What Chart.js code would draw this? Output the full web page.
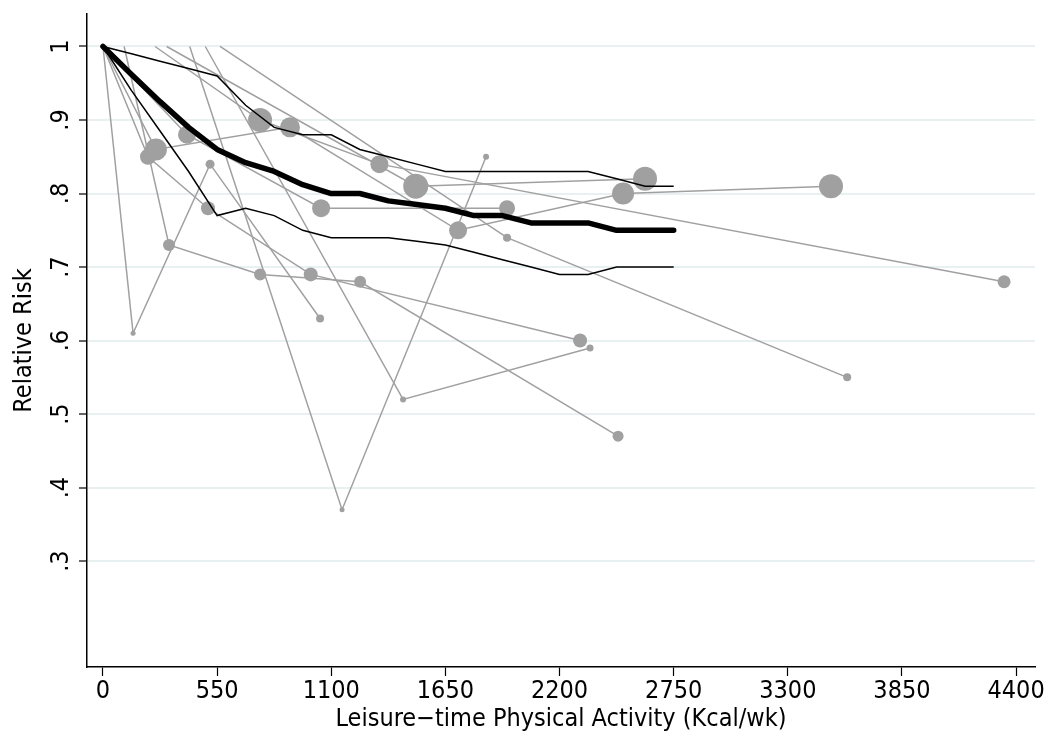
<!DOCTYPE html>
<html>
<head>
<meta charset="utf-8">
<script src="https://cdn.jsdelivr.net/npm/chart.js@4.4.1/dist/chart.umd.min.js"></script>
<style>
  html, body { margin: 0; padding: 0; background: #fff; }
  #wrap { width: 1050px; height: 744px; position: relative; }
</style>
</head>
<body>
<div id="wrap"><canvas id="doseChart"></canvas></div>
<script>
// axis ticks
const xTickValues = [0, 550, 1100, 1650, 2200, 2750, 3300, 3850, 4400];
const yTickValues = [0.3, 0.4, 0.5, 0.6, 0.7, 0.8, 0.9, 1];
const yTickLabels = ['.3', '.4', '.5', '.6', '.7', '.8', '.9', '1'];

// pooled dose-response curve and its confidence band
const pooledDose = [0, 137.5, 275, 412.5, 550, 687.5, 825, 962.5, 1100, 1237.5, 1375,
    1512.5, 1650, 1787.5, 1925, 2062.5, 2200, 2337.5, 2475, 2612.5, 2750];
const pooledRR = [1, 0.962, 0.925, 0.89, 0.86, 0.842, 0.83, 0.812, 0.80, 0.80, 0.79,
    0.785, 0.78, 0.77, 0.77, 0.76, 0.76, 0.76, 0.75, 0.75, 0.75];
const upperRR = [1, 0.99, 0.98, 0.97, 0.96, 0.92, 0.89, 0.88, 0.88, 0.86, 0.85,
    0.84, 0.83, 0.83, 0.83, 0.83, 0.83, 0.83, 0.82, 0.81, 0.81];
const lowerRR = [1, 0.94, 0.885, 0.83, 0.77, 0.78, 0.77, 0.75, 0.74, 0.74, 0.74,
    0.735, 0.73, 0.72, 0.71, 0.70, 0.69, 0.69, 0.70, 0.70, 0.70];

// individual studies: dose, relative risk, marker size (study weight)
const studyDose = [
    [0, 145, 516, 1046],
    [102, 318, 757, 1239, 2482],
    [418, 1152, 1846],
    [0, 217, 506, 1001, 2299],
    [0, 255, 901, 1711, 2506, 3508],
    [493, 1446, 2347],
    [0, 405, 1051, 1947],
    [251, 757, 1332, 4342],
    [307, 1507, 2612],
    [564, 1947, 3586]
];
const studyRR = [
    [1, 0.61, 0.84, 0.63],
    [1, 0.73, 0.69, 0.68, 0.47],
    [1, 0.37, 0.85],
    [1, 0.85, 0.78, 0.69, 0.60],
    [1, 0.86, 0.89, 0.75, 0.80, 0.81],
    [1, 0.52, 0.59],
    [1, 0.88, 0.78, 0.78],
    [1, 0.90, 0.84, 0.68],
    [1, 0.81, 0.82],
    [1, 0.74, 0.55]
];
const studySize = [
    [0, 2.5, 4.5, 4],
    [0, 6, 6, 6, 5.5],
    [0, 2.5, 3],
    [0, 8, 7, 7, 7],
    [0, 11, 10, 9, 11, 12],
    [0, 3, 3.5],
    [0, 9, 9, 8],
    [0, 12, 9, 6.5],
    [0, 12.5, 12],
    [0, 4, 4]
];

const gray = '#a0a0a0';
const font = "'Liberation Sans Narrow', 'DejaVu Sans Condensed', sans-serif";

function toPoints(xs, ys) {
    return xs.map((x, i) => ({ x: x, y: ys[i] }));
}

const datasets = [
    { data: toPoints(pooledDose, pooledRR), borderColor: '#000', borderWidth: 5.5, pointRadius: 0, borderCapStyle: 'round', borderJoinStyle: 'round' },
    { data: toPoints(pooledDose, upperRR), borderColor: '#000', borderWidth: 1.5, pointRadius: 0 },
    { data: toPoints(pooledDose, lowerRR), borderColor: '#000', borderWidth: 1.5, pointRadius: 0 }
];

studyDose.forEach((doses, i) => {
    datasets.push({
        data: toPoints(doses, studyRR[i]),
        borderColor: gray,
        borderWidth: 1.5,
        pointRadius: studySize[i],
        pointBackgroundColor: gray,
        pointBorderWidth: 0,
        pointHoverRadius: studySize[i]
    });
});

// y tick labels are rotated like the original (reading upward)
const yLabelPlugin = {
    id: 'yLabels',
    afterDraw(chart) {
        const ctx = chart.ctx;
        const yScale = chart.scales.y;
        ctx.save();
        ctx.fillStyle = '#000';
        ctx.font = '25px ' + font;
        ctx.textAlign = 'center';
        ctx.textBaseline = 'middle';
        yTickValues.forEach((v, i) => {
            ctx.save();
            ctx.translate(61, yScale.getPixelForValue(v));
            ctx.rotate(-Math.PI / 2);
            ctx.fillText(yTickLabels[i], 0, 0);
            ctx.restore();
        });
        ctx.restore();
    }
};

new Chart(document.getElementById('doseChart'), {
    type: 'line',
    data: { datasets: datasets },
    options: {
        responsive: true,
        maintainAspectRatio: false,
        animation: false,
        layout: { padding: { top: 14, right: 15, bottom: 0, left: 0 } },
        plugins: {
            legend: { display: false },
            tooltip: { enabled: false }
        },
        elements: { line: { tension: 0 } },
        scales: {
            x: {
                type: 'linear',
                min: -77,
                max: 4491,
                afterBuildTicks: (scale) => { scale.ticks = xTickValues.map(v => ({ value: v })); },
                afterFit: (scale) => { scale.height = 77; },
                border: { display: true, color: '#000', width: 1.5 },
                grid: { drawOnChartArea: false, drawTicks: true, tickLength: 9, tickColor: '#000', tickWidth: 1.2 },
                ticks: {
                    color: '#000',
                    font: { family: font, size: 25 },
                    padding: 0,
                    maxRotation: 0,
                    autoSkip: false,
                    callback: (value) => String(value)
                },
                title: {
                    display: true,
                    text: 'Leisure\u2212time Physical Activity (Kcal/wk)',
                    color: '#000',
                    font: { family: font, size: 25 },
                    padding: { top: 0, bottom: 10 }
                }
            },
            y: {
                type: 'linear',
                min: 0.156,
                max: 1.0442,
                afterBuildTicks: (scale) => { scale.ticks = yTickValues.map(v => ({ value: v })); },
                afterFit: (scale) => { scale.width = 87; },
                border: { display: true, color: '#000', width: 1.5 },
                grid: { color: '#e8f0f1', lineWidth: 2, drawTicks: true, tickLength: 8, tickColor: '#000', tickWidth: 1.2 },
                ticks: { display: false },
                title: {
                    display: true,
                    text: 'Relative Risk',
                    color: '#000',
                    font: { family: font, size: 25 },
                    padding: { top: 9, bottom: 0 }
                }
            }
        }
    },
    plugins: [yLabelPlugin]
});
</script>
</body>
</html>
